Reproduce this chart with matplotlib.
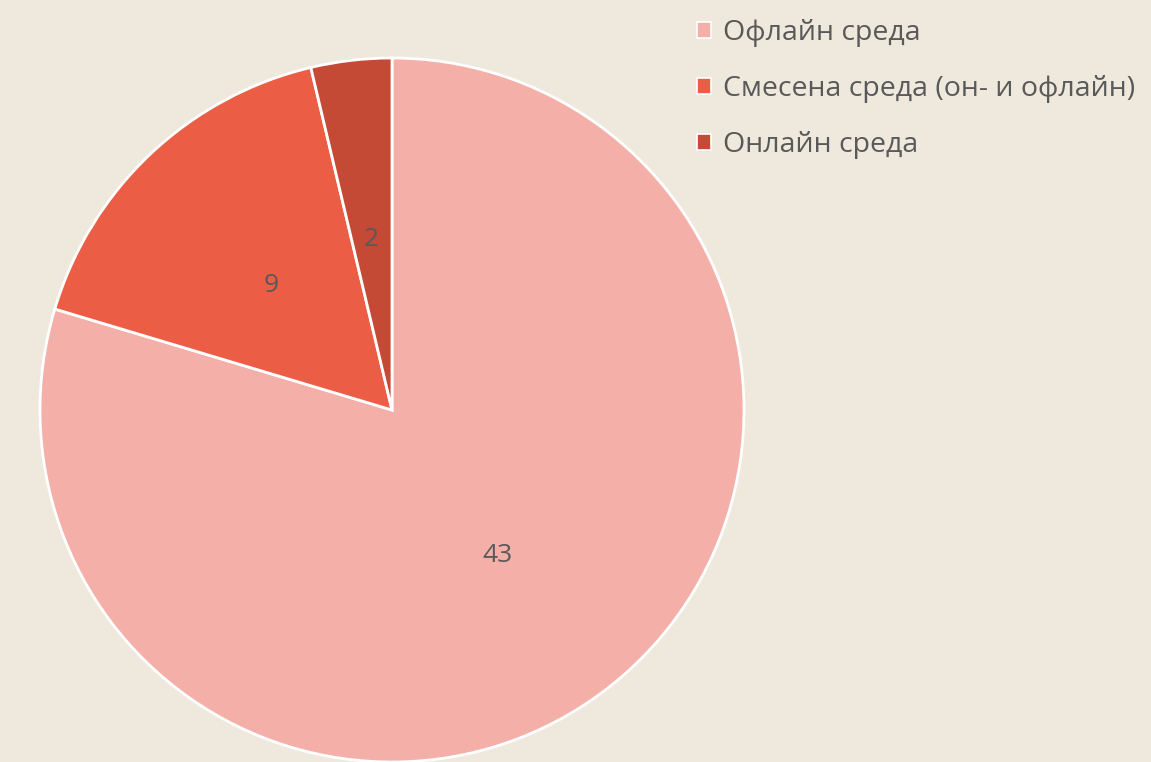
import matplotlib
matplotlib.use("Agg")
import matplotlib.pyplot as plt
import matplotlib.transforms as mtransforms
from matplotlib.patches import Patch

categories = ["Офлайн среда", "Смесена среда (он- и офлайн)", "Онлайн среда"]
values = [43, 9, 2]
colors = ["#F4AFA8", "#EB5E45", "#C44A36"]

bg = "#EFE9DD"
txt = "#595959"
plt.rcParams['font.family'] = ['Open Sans', 'DejaVu Sans']

fig = plt.figure(figsize=(11.51, 7.62), dpi=100, facecolor=bg)
R = 352
cx, cy = 392, 410
W, H = 1151, 762
ax = fig.add_axes([(cx - R) / W, (H - cy - R) / H, 2 * R / W, 2 * R / H])
ax.set_facecolor(bg)
wedges, texts, autotexts = ax.pie(
    values, colors=colors, startangle=90, counterclock=False, radius=1,
    autopct=lambda p: f"{round(p * sum(values) / 100):d}", pctdistance=0.5,
    wedgeprops=dict(edgecolor="white", linewidth=2),
    textprops=dict(color=txt, fontsize=19))
for t in autotexts:
    t.set_transform(mtransforms.offset_copy(ax.transData, fig=fig, x=0, y=-4, units="dots"))
ax.set_xlim(-1, 1)
ax.set_ylim(-1, 1)
ax.set_aspect("equal")
ax.axis("off")

handles = [Patch(facecolor=c, edgecolor="white", linewidth=1.2) for c in colors]
leg = fig.legend(handles, categories, loc="upper left",
                 bbox_to_anchor=(697 / W, 1 - 19 / H), frameon=False,
                 fontsize=20.5, labelcolor=txt, handlelength=0.5, handleheight=0.5,
                 handletextpad=0.4, labelspacing=0.99, borderpad=0,
                 borderaxespad=0)
fig.savefig("out.png", dpi=100, facecolor=bg)
